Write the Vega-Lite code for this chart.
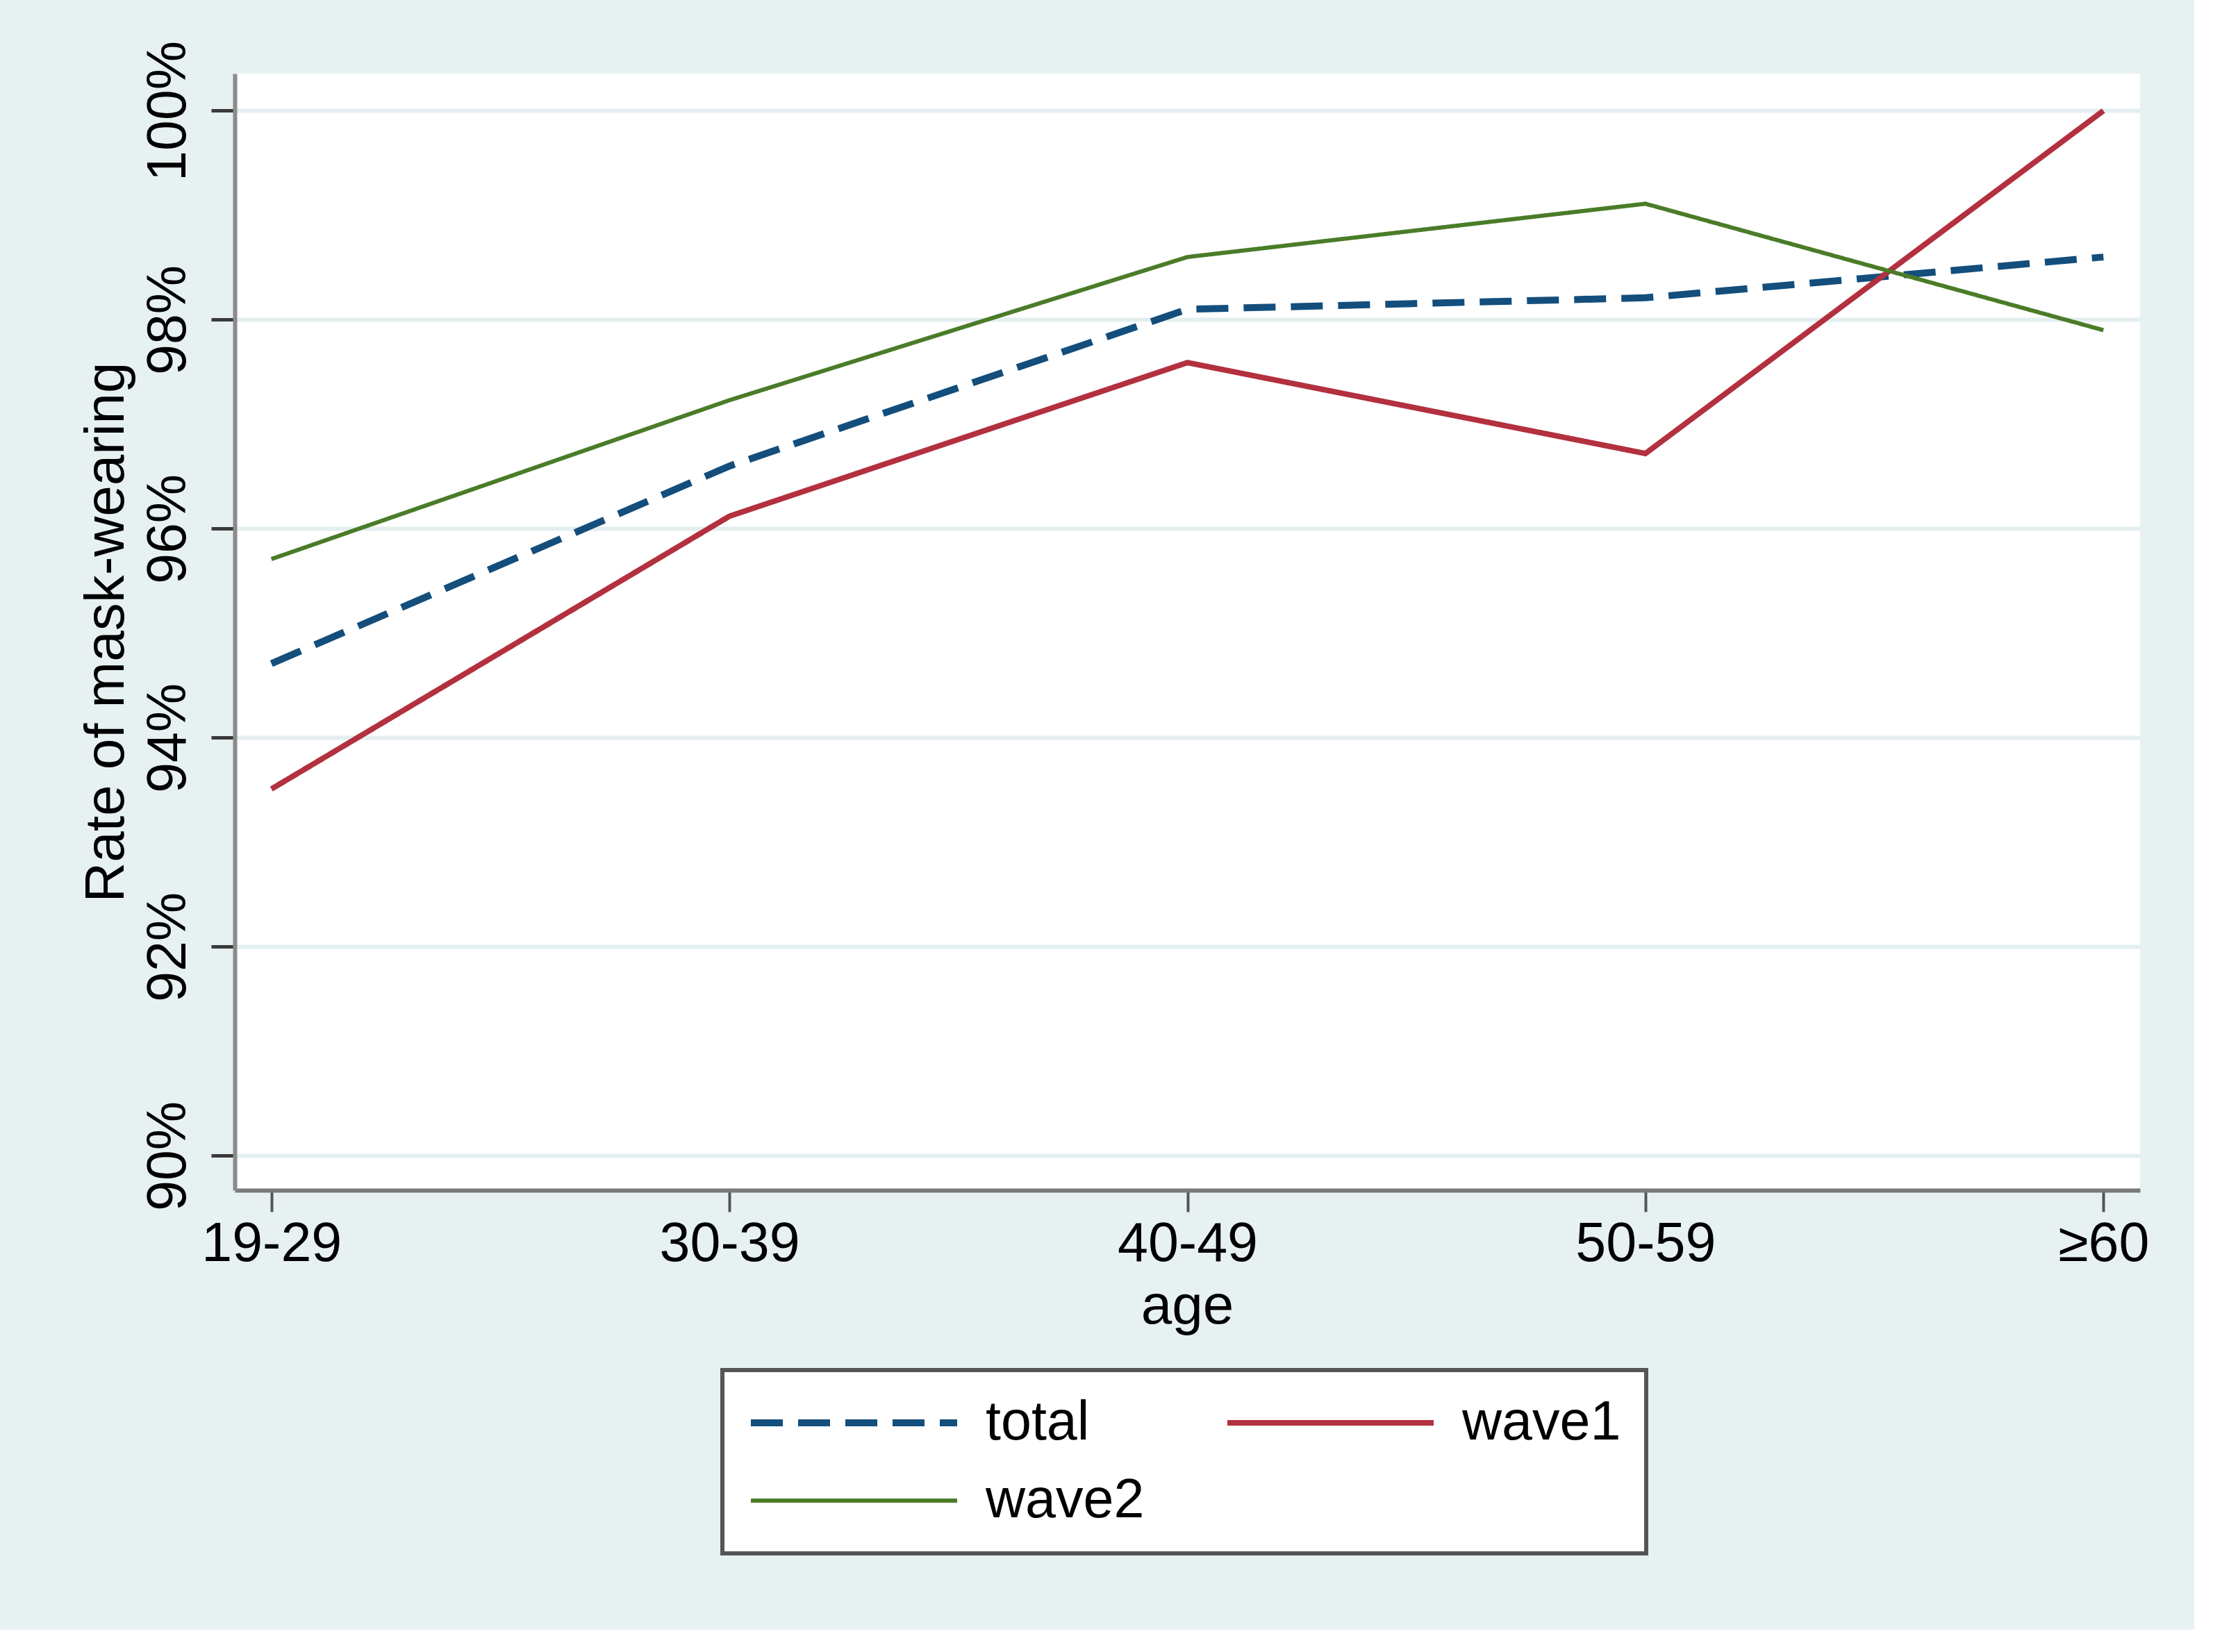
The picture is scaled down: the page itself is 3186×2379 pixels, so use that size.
{
  "$schema": "https://vega.github.io/schema/vega-lite/v6.json",
  "width": 2743,
  "height": 1608,
  "autosize": {"type": "none"},
  "padding": {"left": 338, "top": 106, "right": 78, "bottom": 633},
  "background": "#E7F1F2",
  "config": {
    "font": "Liberation Sans",
    "view": {"fill": "white", "stroke": null}
  },
  "data": {
    "values": [
      {"age": "19-29", "series": "total", "rate": 0.9471},
      {"age": "30-39", "series": "total", "rate": 0.9660},
      {"age": "40-49", "series": "total", "rate": 0.9810},
      {"age": "50-59", "series": "total", "rate": 0.9821},
      {"age": "≥60", "series": "total", "rate": 0.9860},
      {"age": "19-29", "series": "wave1", "rate": 0.9351},
      {"age": "30-39", "series": "wave1", "rate": 0.9612},
      {"age": "40-49", "series": "wave1", "rate": 0.9759},
      {"age": "50-59", "series": "wave1", "rate": 0.9672},
      {"age": "≥60", "series": "wave1", "rate": 1.0},
      {"age": "19-29", "series": "wave2", "rate": 0.9571},
      {"age": "30-39", "series": "wave2", "rate": 0.9723},
      {"age": "40-49", "series": "wave2", "rate": 0.9860},
      {"age": "50-59", "series": "wave2", "rate": 0.9911},
      {"age": "≥60", "series": "wave2", "rate": 0.9790}
    ]
  },
  "mark": {"type": "line", "strokeCap": "butt"},
  "encoding": {
    "x": {
      "field": "age",
      "type": "ordinal",
      "sort": ["19-29", "30-39", "40-49", "50-59", "≥60"],
      "scale": {"type": "point", "padding": 0.08},
      "axis": {
        "title": "age",
        "labelAngle": 0,
        "labelBaseline": "alphabetic",
        "labelPadding": 70,
        "labelFontSize": 79,
        "labelColor": "#000000",
        "labelLimit": 500,
        "tickSize": 31,
        "tickWidth": 4,
        "tickColor": "#555555",
        "domainColor": "#7a7a7a",
        "domainWidth": 6,
        "grid": false,
        "titleFontSize": 80,
        "titleFontWeight": "normal",
        "titleColor": "#000000",
        "titleBaseline": "alphabetic",
        "titleY": 191,
        "titleX": 1371
      }
    },
    "y": {
      "field": "rate",
      "type": "quantitative",
      "scale": {"domain": [0.89671, 1.00355], "nice": false, "zero": false},
      "axis": {
        "title": "Rate of mask-wearing",
        "values": [0.9, 0.92, 0.94, 0.96, 0.98, 1.0],
        "format": ".0%",
        "labelAngle": -90,
        "labelAlign": "center",
        "labelBaseline": "alphabetic",
        "labelPadding": 38,
        "labelFontSize": 79,
        "labelColor": "#000000",
        "labelLimit": 500,
        "labelOverlap": false,
        "labelFlush": false,
        "tickSize": 34,
        "tickWidth": 5,
        "tickColor": "#3a3a3a",
        "domainColor": "#8a8a8a",
        "domainWidth": 6,
        "grid": true,
        "gridColor": "#E3EEEF",
        "gridWidth": 6,
        "titleFontSize": 80,
        "titleFontWeight": "normal",
        "titleColor": "#000000",
        "titleAngle": -90,
        "titleAlign": "center",
        "titleBaseline": "alphabetic",
        "titleX": -161,
        "titleY": 804
      }
    },
    "color": {
      "field": "series",
      "type": "nominal",
      "scale": {"domain": ["total", "wave1", "wave2"], "range": ["#134E7C", "#B3303E", "#4A7C28"]},
      "legend": {
        "title": null,
        "orient": "none",
        "legendX": 702,
        "legendY": 1867,
        "direction": "horizontal",
        "columns": 2,
        "symbolType": "stroke",
        "symbolSize": 88209,
        "symbolStrokeWidth": 10,
        "clipHeight": 80,
        "labelFontSize": 79,
        "labelColor": "#000000",
        "labelLimit": 600,
        "labelOffset": 36,
        "columnPadding": 114,
        "rowPadding": 32,
        "padding": 36,
        "fillColor": "white",
        "strokeColor": "#555555",
        "encode": {
          "legend": {"update": {"strokeWidth": {"value": 6}}}
        }
      }
    },
    "strokeDash": {
      "field": "series",
      "type": "nominal",
      "scale": {"domain": ["total", "wave1", "wave2"], "range": [[46, 22], [1, 0], [1, 0]]}
    },
    "strokeWidth": {
      "field": "series",
      "type": "nominal",
      "scale": {"domain": ["total", "wave1", "wave2"], "range": [10, 6, 6]},
      "legend": null
    }
  }
}
